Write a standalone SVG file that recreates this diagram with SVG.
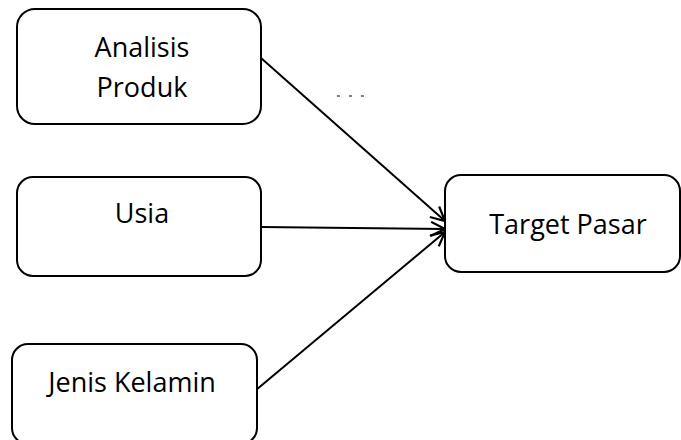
<svg xmlns="http://www.w3.org/2000/svg" width="681" height="440" viewBox="0 0 681 440">
<style>
.box{fill:#fff;stroke:#000;stroke-width:2}
.t{font-family:"Open Sans","Liberation Sans",sans-serif;font-size:27px;fill:#000;text-anchor:middle}
.c{stroke:#000;stroke-width:2;fill:none}
</style>
<defs>
<marker id="ah" viewBox="0 0 16 16" refX="15" refY="8" markerWidth="16" markerHeight="16" markerUnits="userSpaceOnUse" orient="auto">
<path d="M1,1 L15,8 L1,15" fill="none" stroke="#000" stroke-width="2.2"/>
</marker>
</defs>
<rect width="681" height="440" fill="#fff"/>
<g id="connectors">
<line class="c" x1="261" y1="58" x2="445" y2="221" marker-end="url(#ah)"/>
<line class="c" x1="261" y1="227" x2="445" y2="229" marker-end="url(#ah)"/>
<line class="c" x1="256" y1="390" x2="445" y2="232" marker-end="url(#ah)"/>
<line x1="337" y1="96" x2="365" y2="96" stroke="#000" stroke-width="1" stroke-dasharray="3,9"/>
</g>
<g id="analisis">
<rect class="box" x="17" y="9" width="244" height="115" rx="18"/>
<text class="t" x="142" y="57">Analisis</text>
<text class="t" x="142" y="97">Produk</text>
</g>
<g id="usia">
<rect class="box" x="17" y="177" width="244" height="99" rx="16"/>
<text class="t" x="142" y="223">Usia</text>
</g>
<g id="jenis">
<rect class="box" x="12" y="344" width="245" height="100" rx="16"/>
<text class="t" x="132" y="392">Jenis Kelamin</text>
</g>
<g id="target">
<rect class="box" x="445" y="175" width="235" height="97" rx="16"/>
<text class="t" x="568" y="234">Target Pasar</text>
</g>
</svg>
